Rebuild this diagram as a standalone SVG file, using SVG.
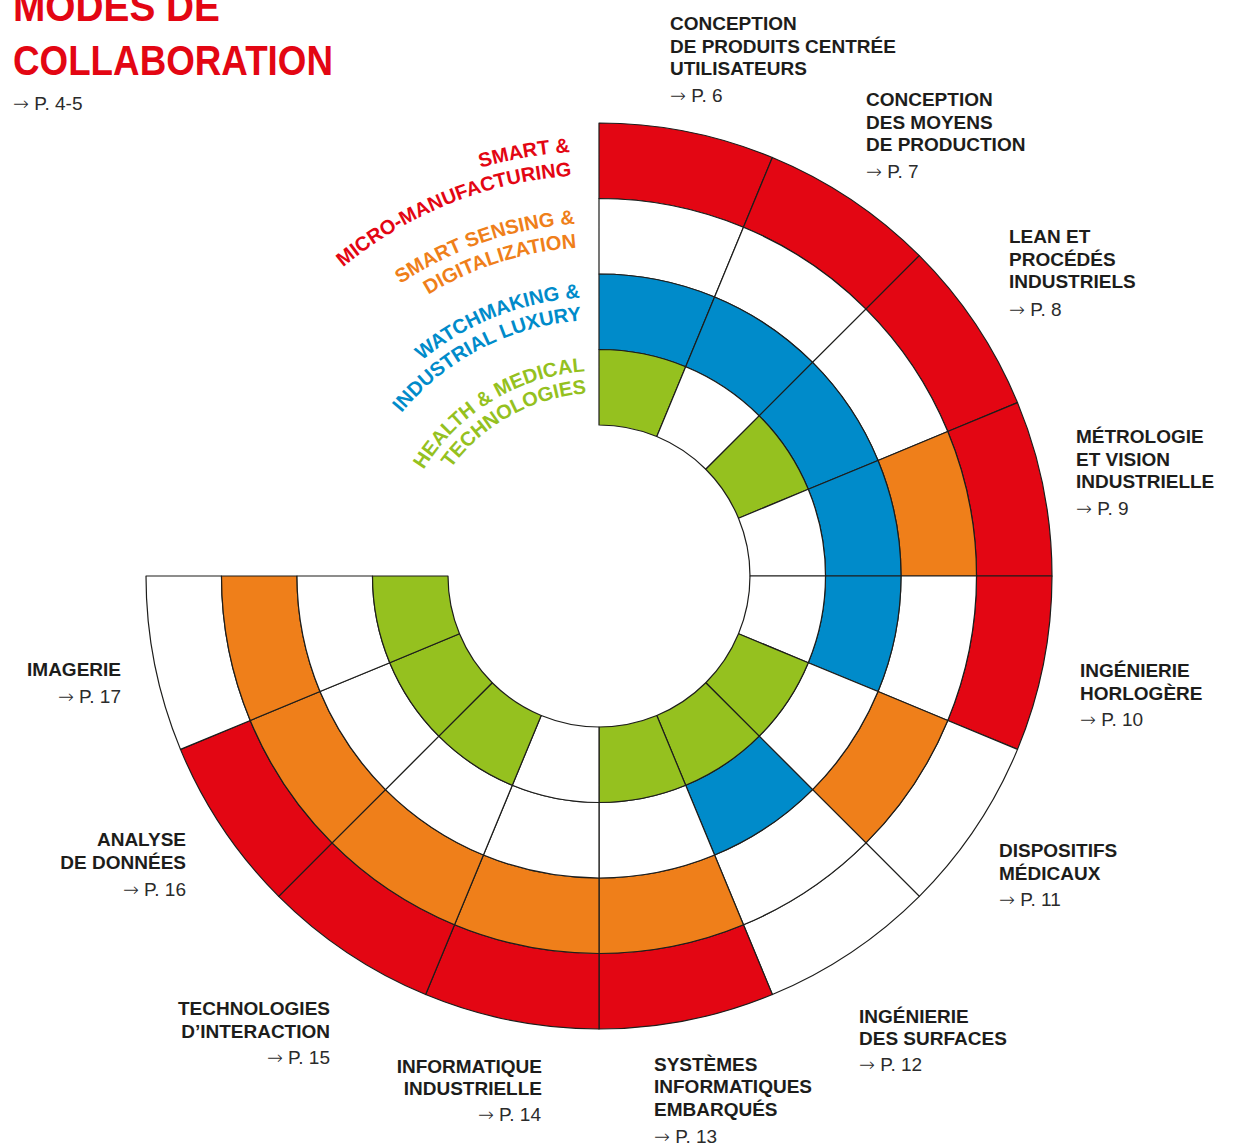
<svg xmlns="http://www.w3.org/2000/svg" width="1240" height="1148" viewBox="0 0 1240 1148">
<style>
.bg{fill:#ffffff}
.cell{stroke:#1d1d1b;stroke-width:1.2;stroke-linejoin:round}
.r{fill:#E30613}.o{fill:#EF7F1A}.b{fill:#008BCA}.g{fill:#95C11F}.w{fill:#ffffff}
.lab{font-family:"Liberation Sans",Arial,sans-serif;font-weight:bold;font-size:19px;fill:#1d1d1b}
.ref{font-family:"Liberation Sans",Arial,sans-serif;font-size:19px;fill:#2b2b2b}
.ar{font-family:"DejaVu Sans",sans-serif;font-weight:200;font-size:19px}
.leg{font-family:"Liberation Sans",Arial,sans-serif;font-weight:bold;font-size:20px}
.title{font-family:"Liberation Sans",Arial,sans-serif;font-weight:bold;font-size:42px;fill:#E30613}
.end{text-anchor:end}
</style>
<defs>
<path id="a1" d="M174,576 A425,425 0 0 1 570.09,151.98"/>
<path id="a2" d="M198,576 A401,401 0 0 1 571.73,175.93"/>
<path id="a3" d="M246,576 A353,353 0 0 1 574.99,223.82"/>
<path id="a4" d="M270,576 A329,329 0 0 1 576.62,247.76"/>
<path id="a5" d="M320,576 A279,279 0 0 1 580.02,297.65"/>
<path id="a6" d="M343,576 A256,256 0 0 1 581.59,320.59"/>
<path id="a7" d="M394,576 A205,205 0 0 1 585.06,371.47"/>
<path id="a8" d="M416,576 A183,183 0 0 1 586.55,393.42"/>
</defs>
<rect class="bg" x="0" y="0" width="1240" height="1148"/>

<g id="title">
<text class="title" x="13" y="21" textLength="207" lengthAdjust="spacingAndGlyphs">MODES DE</text>
<text class="title" x="13" y="75" textLength="320" lengthAdjust="spacingAndGlyphs">COLLABORATION</text>
<text class="ref" x="13" y="110"><tspan class="ar">→</tspan> P. 4-5</text>
</g>

<g id="legend">
<text class="leg r"><textPath href="#a1" startOffset="100%" text-anchor="end">SMART &amp;</textPath></text>
<text class="leg r"><textPath href="#a2" startOffset="100%" text-anchor="end">MICRO-MANUFACTURING</textPath></text>
<text class="leg o"><textPath href="#a3" startOffset="100%" text-anchor="end">SMART SENSING &amp;</textPath></text>
<text class="leg o"><textPath href="#a4" startOffset="100%" text-anchor="end">DIGITALIZATION</textPath></text>
<text class="leg b"><textPath href="#a5" startOffset="100%" text-anchor="end">WATCHMAKING &amp;</textPath></text>
<text class="leg b"><textPath href="#a6" startOffset="100%" text-anchor="end">INDUSTRIAL LUXURY</textPath></text>
<text class="leg g"><textPath href="#a7" startOffset="100%" text-anchor="end">HEALTH &amp; MEDICAL</textPath></text>
<text class="leg g"><textPath href="#a8" startOffset="100%" text-anchor="end">TECHNOLOGIES</textPath></text>
</g>

<g id="s1">
<path class="cell r" d="M599,123 A453,453 0 0 1 772.36,157.48 L743.46,227.24 A377.5,377.5 0 0 0 599,198.5Z"/>
<path class="cell w" d="M599,198.5 A377.5,377.5 0 0 1 743.46,227.24 L714.57,296.99 A302,302 0 0 0 599,274Z"/>
<path class="cell b" d="M599,274 A302,302 0 0 1 714.57,296.99 L685.68,366.74 A226.5,226.5 0 0 0 599,349.5Z"/>
<path class="cell g" d="M599,349.5 A226.5,226.5 0 0 1 685.68,366.74 L656.79,436.49 A151,151 0 0 0 599,425Z"/>
<text class="lab" x="670" y="30">CONCEPTION</text>
<text class="lab" x="670" y="52.5">DE PRODUITS CENTRÉE</text>
<text class="lab" x="670" y="75">UTILISATEURS</text>
<text class="ref" x="670" y="102"><tspan class="ar">→</tspan> P. 6</text>
</g>

<g id="s2">
<path class="cell r" d="M772.36,157.48 A453,453 0 0 1 919.32,255.68 L865.93,309.07 A377.5,377.5 0 0 0 743.46,227.24Z"/>
<path class="cell w" d="M743.46,227.24 A377.5,377.5 0 0 1 865.93,309.07 L812.55,362.45 A302,302 0 0 0 714.57,296.99Z"/>
<path class="cell b" d="M714.57,296.99 A302,302 0 0 1 812.55,362.45 L759.16,415.84 A226.5,226.5 0 0 0 685.68,366.74Z"/>
<path class="cell w" d="M685.68,366.74 A226.5,226.5 0 0 1 759.16,415.84 L705.77,469.23 A151,151 0 0 0 656.79,436.49Z"/>
<text class="lab" x="866" y="106">CONCEPTION</text>
<text class="lab" x="866" y="128.5">DES MOYENS</text>
<text class="lab" x="866" y="151">DE PRODUCTION</text>
<text class="ref" x="866" y="178"><tspan class="ar">→</tspan> P. 7</text>
</g>

<g id="s3">
<path class="cell r" d="M919.32,255.68 A453,453 0 0 1 1017.52,402.64 L947.77,431.54 A377.5,377.5 0 0 0 865.93,309.07Z"/>
<path class="cell w" d="M865.93,309.07 A377.5,377.5 0 0 1 947.77,431.54 L878.01,460.43 A302,302 0 0 0 812.55,362.45Z"/>
<path class="cell b" d="M812.55,362.45 A302,302 0 0 1 878.01,460.43 L808.26,489.32 A226.5,226.5 0 0 0 759.16,415.84Z"/>
<path class="cell g" d="M759.16,415.84 A226.5,226.5 0 0 1 808.26,489.32 L738.51,518.22 A151,151 0 0 0 705.77,469.23Z"/>
<text class="lab" x="1009" y="243">LEAN ET</text>
<text class="lab" x="1009" y="265.5">PROCÉDÉS</text>
<text class="lab" x="1009" y="288">INDUSTRIELS</text>
<text class="ref" x="1009" y="316"><tspan class="ar">→</tspan> P. 8</text>
</g>

<g id="s4">
<path class="cell r" d="M1017.52,402.64 A453,453 0 0 1 1052,576 L976.5,576 A377.5,377.5 0 0 0 947.77,431.54Z"/>
<path class="cell o" d="M947.77,431.54 A377.5,377.5 0 0 1 976.5,576 L901,576 A302,302 0 0 0 878.01,460.43Z"/>
<path class="cell b" d="M878.01,460.43 A302,302 0 0 1 901,576 L825.5,576 A226.5,226.5 0 0 0 808.26,489.32Z"/>
<path class="cell w" d="M808.26,489.32 A226.5,226.5 0 0 1 825.5,576 L750,576 A151,151 0 0 0 738.51,518.22Z"/>
<text class="lab" x="1076" y="443">MÉTROLOGIE</text>
<text class="lab" x="1076" y="465.5">ET VISION</text>
<text class="lab" x="1076" y="488">INDUSTRIELLE</text>
<text class="ref" x="1076" y="515"><tspan class="ar">→</tspan> P. 9</text>
</g>

<g id="s5">
<path class="cell r" d="M1052,576 A453,453 0 0 1 1017.52,749.36 L947.77,720.46 A377.5,377.5 0 0 0 976.5,576Z"/>
<path class="cell w" d="M976.5,576 A377.5,377.5 0 0 1 947.77,720.46 L878.01,691.57 A302,302 0 0 0 901,576Z"/>
<path class="cell b" d="M901,576 A302,302 0 0 1 878.01,691.57 L808.26,662.68 A226.5,226.5 0 0 0 825.5,576Z"/>
<path class="cell w" d="M825.5,576 A226.5,226.5 0 0 1 808.26,662.68 L738.51,633.78 A151,151 0 0 0 750,576Z"/>
<text class="lab" x="1080" y="677">INGÉNIERIE</text>
<text class="lab" x="1080" y="699.5">HORLOGÈRE</text>
<text class="ref" x="1080" y="726"><tspan class="ar">→</tspan> P. 10</text>
</g>

<g id="s6">
<path class="cell w" d="M1017.52,749.36 A453,453 0 0 1 919.32,896.32 L865.93,842.93 A377.5,377.5 0 0 0 947.77,720.46Z"/>
<path class="cell o" d="M947.77,720.46 A377.5,377.5 0 0 1 865.93,842.93 L812.55,789.55 A302,302 0 0 0 878.01,691.57Z"/>
<path class="cell w" d="M878.01,691.57 A302,302 0 0 1 812.55,789.55 L759.16,736.16 A226.5,226.5 0 0 0 808.26,662.68Z"/>
<path class="cell g" d="M808.26,662.68 A226.5,226.5 0 0 1 759.16,736.16 L705.77,682.77 A151,151 0 0 0 738.51,633.78Z"/>
<text class="lab" x="999" y="857">DISPOSITIFS</text>
<text class="lab" x="999" y="879.5">MÉDICAUX</text>
<text class="ref" x="999" y="906"><tspan class="ar">→</tspan> P. 11</text>
</g>

<g id="s7">
<path class="cell w" d="M919.32,896.32 A453,453 0 0 1 772.36,994.52 L743.46,924.77 A377.5,377.5 0 0 0 865.93,842.93Z"/>
<path class="cell w" d="M865.93,842.93 A377.5,377.5 0 0 1 743.46,924.77 L714.57,855.01 A302,302 0 0 0 812.55,789.55Z"/>
<path class="cell b" d="M812.55,789.55 A302,302 0 0 1 714.57,855.01 L685.68,785.26 A226.5,226.5 0 0 0 759.16,736.16Z"/>
<path class="cell g" d="M759.16,736.16 A226.5,226.5 0 0 1 685.68,785.26 L656.79,715.51 A151,151 0 0 0 705.77,682.77Z"/>
<text class="lab" x="859" y="1023">INGÉNIERIE</text>
<text class="lab" x="859" y="1045">DES SURFACES</text>
<text class="ref" x="859" y="1071"><tspan class="ar">→</tspan> P. 12</text>
</g>

<g id="s8">
<path class="cell r" d="M772.36,994.52 A453,453 0 0 1 599,1029 L599,953.5 A377.5,377.5 0 0 0 743.46,924.77Z"/>
<path class="cell o" d="M743.46,924.77 A377.5,377.5 0 0 1 599,953.5 L599,878 A302,302 0 0 0 714.57,855.01Z"/>
<path class="cell w" d="M714.57,855.01 A302,302 0 0 1 599,878 L599,802.5 A226.5,226.5 0 0 0 685.68,785.26Z"/>
<path class="cell g" d="M685.68,785.26 A226.5,226.5 0 0 1 599,802.5 L599,727 A151,151 0 0 0 656.79,715.51Z"/>
<text class="lab" x="654" y="1070.5">SYSTÈMES</text>
<text class="lab" x="654" y="1093">INFORMATIQUES</text>
<text class="lab" x="654" y="1116">EMBARQUÉS</text>
<text class="ref" x="654" y="1143"><tspan class="ar">→</tspan> P. 13</text>
</g>

<g id="s9">
<path class="cell r" d="M599,1029 A453,453 0 0 1 425.64,994.52 L454.54,924.77 A377.5,377.5 0 0 0 599,953.5Z"/>
<path class="cell o" d="M599,953.5 A377.5,377.5 0 0 1 454.54,924.77 L483.43,855.01 A302,302 0 0 0 599,878Z"/>
<path class="cell w" d="M599,878 A302,302 0 0 1 483.43,855.01 L512.32,785.26 A226.5,226.5 0 0 0 599,802.5Z"/>
<path class="cell w" d="M599,802.5 A226.5,226.5 0 0 1 512.32,785.26 L541.21,715.51 A151,151 0 0 0 599,727Z"/>
<text class="lab end" x="542" y="1072.5">INFORMATIQUE</text>
<text class="lab end" x="542" y="1094.5">INDUSTRIELLE</text>
<text class="ref end" x="541" y="1120.5"><tspan class="ar">→</tspan> P. 14</text>
</g>

<g id="s10">
<path class="cell r" d="M425.64,994.52 A453,453 0 0 1 278.68,896.32 L332.07,842.93 A377.5,377.5 0 0 0 454.54,924.77Z"/>
<path class="cell o" d="M454.54,924.77 A377.5,377.5 0 0 1 332.07,842.93 L385.45,789.55 A302,302 0 0 0 483.43,855.01Z"/>
<path class="cell w" d="M483.43,855.01 A302,302 0 0 1 385.45,789.55 L438.84,736.16 A226.5,226.5 0 0 0 512.32,785.26Z"/>
<path class="cell g" d="M512.32,785.26 A226.5,226.5 0 0 1 438.84,736.16 L492.23,682.77 A151,151 0 0 0 541.21,715.51Z"/>
<text class="lab end" x="330" y="1015">TECHNOLOGIES</text>
<text class="lab end" x="330" y="1038">D’INTERACTION</text>
<text class="ref end" x="330" y="1064"><tspan class="ar">→</tspan> P. 15</text>
</g>

<g id="s11">
<path class="cell r" d="M278.68,896.32 A453,453 0 0 1 180.48,749.36 L250.24,720.46 A377.5,377.5 0 0 0 332.07,842.93Z"/>
<path class="cell o" d="M332.07,842.93 A377.5,377.5 0 0 1 250.24,720.46 L319.99,691.57 A302,302 0 0 0 385.45,789.55Z"/>
<path class="cell w" d="M385.45,789.55 A302,302 0 0 1 319.99,691.57 L389.74,662.68 A226.5,226.5 0 0 0 438.84,736.16Z"/>
<path class="cell g" d="M438.84,736.16 A226.5,226.5 0 0 1 389.74,662.68 L459.49,633.78 A151,151 0 0 0 492.23,682.77Z"/>
<text class="lab end" x="186" y="846">ANALYSE</text>
<text class="lab end" x="186" y="869">DE DONNÉES</text>
<text class="ref end" x="186" y="896"><tspan class="ar">→</tspan> P. 16</text>
</g>

<g id="s12">
<path class="cell w" d="M180.48,749.36 A453,453 0 0 1 146,576 L221.5,576 A377.5,377.5 0 0 0 250.24,720.46Z"/>
<path class="cell o" d="M250.24,720.46 A377.5,377.5 0 0 1 221.5,576 L297,576 A302,302 0 0 0 319.99,691.57Z"/>
<path class="cell w" d="M319.99,691.57 A302,302 0 0 1 297,576 L372.5,576 A226.5,226.5 0 0 0 389.74,662.68Z"/>
<path class="cell g" d="M389.74,662.68 A226.5,226.5 0 0 1 372.5,576 L448,576 A151,151 0 0 0 459.49,633.78Z"/>
<text class="lab end" x="121" y="676">IMAGERIE</text>
<text class="ref end" x="121" y="703"><tspan class="ar">→</tspan> P. 17</text>
</g>
</svg>
